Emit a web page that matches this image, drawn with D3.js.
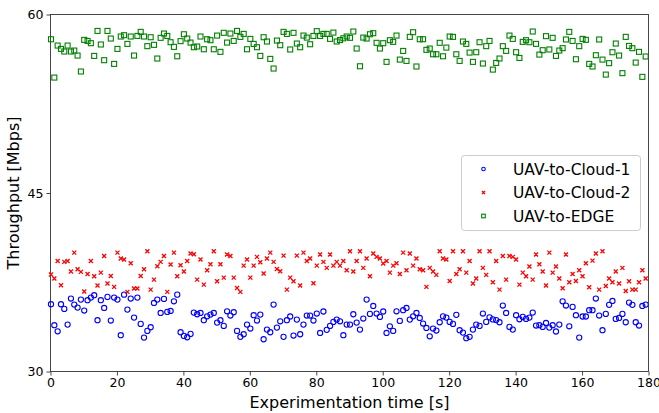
<!DOCTYPE html>
<html><head><meta charset="utf-8">
<script src="https://cdn.jsdelivr.net/npm/d3@7"></script>
<style>body{margin:0;background:#fff}svg{display:block}text{font-family:"DejaVu Sans",sans-serif}</style>
</head><body>
<svg id="c" width="659" height="413"></svg>
<script>
const seriesNames = ["UAV-to-Cloud-1","UAV-to-Cloud-2","UAV-to-EDGE"];
const xTicks = [0,20,40,60,80,100,120,140,160,180];
const yTicks = [30,45,60];
const cloud1 = [35.65,33.89,33.38,35.65,35.26,33.94,36.13,35.62,35.37,36.04,35.12,35.99,36.21,36.41,34.31,35.99,35.34,36.27,34.28,36.21,
36.04,33.05,36.46,35.20,36.13,34.53,36.21,34.00,32.85,33.41,33.72,35.76,36.04,34.92,36.10,35.01,35.09,35.90,36.46,33.30,
32.99,32.88,33.16,34.95,34.81,34.92,34.31,34.64,34.78,34.92,34.11,34.31,33.83,35.06,34.70,34.98,33.41,32.91,33.13,33.94,
33.61,34.73,34.28,34.78,32.71,33.52,33.30,35.62,33.69,34.22,32.91,34.31,34.62,33.02,34.36,33.13,33.94,34.70,34.70,34.28,
34.87,33.24,35.04,33.50,33.83,34.17,34.36,34.22,33.05,33.94,33.94,34.81,34.11,33.52,34.45,36.04,34.84,35.51,34.87,34.59,
35.04,33.24,33.80,33.41,35.06,34.25,35.15,35.34,34.36,34.64,34.92,34.50,34.03,33.66,32.96,33.61,33.44,34.14,34.64,34.53,
34.17,34.00,34.76,33.47,33.27,32.80,32.91,33.52,33.94,33.83,34.87,34.17,34.55,34.38,34.32,34.14,35.54,34.92,33.75,33.52,
34.73,34.39,34.59,34.42,34.53,34.95,33.86,33.89,33.75,34.08,33.69,33.89,33.36,33.94,35.90,35.54,33.80,35.43,34.73,32.85,
34.62,34.62,35.15,35.15,36.13,34.70,33.47,34.84,35.60,35.93,34.42,34.50,34.84,34.14,35.79,35.60,34.14,33.86,35.51,35.62];
const cloud2 = [38.15,37.81,39.29,37.25,39.21,39.29,38.40,39.99,38.59,38.37,36.72,38.20,39.29,38.00,37.22,38.31,39.71,37.39,38.03,37.11,
39.99,39.49,39.41,36.69,39.10,36.97,36.97,38.03,38.59,40.11,36.88,37.72,38.85,39.21,39.71,36.69,38.99,39.99,38.00,38.93,
38.40,39.29,39.91,39.85,37.72,39.41,37.30,38.51,39.01,40.11,37.58,39.01,37.89,39.83,39.71,37.89,37.02,36.69,38.90,39.41,
37.89,38.90,39.63,39.18,38.23,39.49,39.99,39.21,38.62,38.43,39.74,36.88,37.89,37.58,39.74,37.22,39.99,39.29,39.49,37.42,
38.90,39.83,39.21,38.71,39.83,38.90,39.21,38.90,39.29,38.51,40.11,38.40,39.29,40.11,38.71,39.49,38.00,39.91,39.63,39.49,
39.07,39.29,38.31,38.90,39.10,38.20,39.99,38.51,39.91,38.90,39.49,38.59,38.51,37.11,38.71,38.40,38.12,40.11,39.49,39.41,
37.61,40.11,38.20,38.59,40.11,38.31,39.29,37.39,37.81,40.11,38.71,38.12,40.11,37.50,39.29,36.88,39.71,37.72,39.71,39.63,
39.41,37.30,38.31,38.00,38.82,37.72,39.83,39.01,38.40,37.22,39.99,38.31,38.82,37.81,37.00,39.83,37.50,38.20,37.61,38.51,
38.00,39.10,37.08,39.32,39.91,36.88,40.11,37.19,37.81,37.50,38.40,37.39,38.71,36.77,37.58,36.88,36.88,37.50,38.51,37.81];
const edge = [57.92,54.70,57.39,57.11,56.89,57.39,56.89,56.97,56.55,55.21,57.87,57.78,57.59,56.52,58.62,57.48,56.16,58.62,57.98,55.85,
57.11,58.15,58.26,57.53,58.15,56.55,58.20,58.54,58.15,57.34,58.09,57.45,56.30,58.04,58.40,58.20,57.67,57.28,56.49,57.76,
58.34,57.98,57.64,57.25,57.31,58.15,57.08,57.92,57.84,57.08,58.23,56.86,58.46,57.64,58.40,57.78,58.62,58.12,58.37,57.08,
57.95,57.53,57.25,56.52,58.09,57.73,56.27,55.46,57.81,57.42,58.54,58.37,57.06,58.46,57.56,57.25,58.23,58.06,57.50,58.20,
58.60,58.20,58.37,58.37,57.95,58.48,57.73,57.85,58.00,58.15,58.04,58.57,57.14,55.65,58.06,57.98,58.34,58.43,57.62,57.14,
57.59,56.02,57.84,57.70,58.23,56.21,56.94,56.10,58.12,58.51,55.63,57.92,57.92,57.03,57.14,56.66,56.66,57.62,56.49,57.22,
58.15,58.12,56.66,56.10,57.73,57.53,56.80,56.02,56.83,57.67,55.88,57.34,57.78,55.37,55.93,56.30,57.34,56.94,58.23,57.95,
56.83,56.35,57.70,57.84,57.67,58.57,57.53,56.63,57.00,58.18,57.06,58.04,56.52,56.97,57.17,57.90,58.54,57.78,56.24,57.34,
57.95,57.87,55.85,55.63,56.58,57.90,56.21,54.95,55.91,56.83,57.56,56.55,55.07,58.12,57.36,57.17,55.96,56.86,54.76,56.47];
const times = d3.range(cloud1.length);

const svg = d3.select("#c");
const m = {l:50.5, t:14.5, r:648.5, b:371.5};
const x = d3.scaleLinear().domain([0,180]).range([m.l, m.r]);
const y = d3.scaleLinear().domain([30,60]).range([m.b, m.t]);

svg.append("rect").attr("x",m.l).attr("y",m.t).attr("width",m.r-m.l).attr("height",m.b-m.t)
  .attr("fill","none").attr("stroke","#333").attr("stroke-width",0.9);

const xa = svg.append("g").attr("transform",`translate(0,${m.b})`)
  .call(d3.axisBottom(x).tickValues(xTicks).tickSize(4).tickPadding(3).tickFormat(d3.format("d")));
const ya = svg.append("g").attr("transform",`translate(${m.l},0)`)
  .call(d3.axisLeft(y).tickValues(yTicks).tickSize(4).tickPadding(3).tickFormat(d3.format("d")));
[xa,ya].forEach(a=>{a.select(".domain").remove();a.selectAll("line").attr("stroke","#333").attr("stroke-width",0.9);
  a.selectAll("text").attr("font-size",12.5).attr("fill","#000").attr("font-family","DejaVu Sans");});

svg.append("text").attr("x",(m.l+m.r)/2).attr("y",408).attr("text-anchor","middle")
  .attr("font-size",16).text("Experimentation time [s]");
svg.append("text").attr("transform",`translate(19,${(m.t+m.b)/2}) rotate(-90)`).attr("text-anchor","middle")
  .attr("font-size",16).text("Throughput [Mbps]");

svg.append("clipPath").attr("id","cp").append("rect")
  .attr("x",m.l-6).attr("y",m.t).attr("width",m.r-m.l+6).attr("height",m.b-m.t);
const g = svg.append("g").attr("clip-path","url(#cp)");

const blue="#0000ff", red="#ff0000", green="#008000";
function circ(sel,cx,cy,r){sel.append("circle").attr("cx",cx).attr("cy",cy).attr("r",r).attr("fill","none").attr("stroke",blue).attr("stroke-width",1.1);}
function cross(sel,cx,cy,s){sel.append("path").attr("d",`M${cx-s},${cy-s}L${cx+s},${cy+s}M${cx-s},${cy+s}L${cx+s},${cy-s}`).attr("stroke",red).attr("stroke-width",1.3).attr("fill","none");}
function sq(sel,cx,cy,s){sel.append("rect").attr("x",cx-s).attr("y",cy-s).attr("width",2*s).attr("height",2*s).attr("fill","none").attr("stroke",green).attr("stroke-width",1.1);}

times.forEach(t=>circ(g,x(t)+0.5,y(cloud1[t]),2.6));
times.forEach(t=>cross(g,x(t)+0.5,y(cloud2[t]),2.0));
times.forEach(t=>sq(g,x(t)+0.5,y(edge[t]),2.5));

const lg = svg.append("g");
lg.append("rect").attr("x",461.5).attr("y",155.5).attr("width",179).attr("height",75).attr("rx",3)
  .attr("fill","#fff").attr("fill-opacity",0.8).attr("stroke","#ccc").attr("stroke-width",1);
const rows=[169,192.5,216];
circ(lg,483.5,rows[0],1.8); cross(lg,483.5,rows[1],1.5); sq(lg,483.5,rows[2],1.8);
seriesNames.forEach((n,i)=>lg.append("text").attr("x",513).attr("y",rows[i]).attr("dy","0.36em").attr("font-size",15.5).text(n));
</script>
</body></html>
